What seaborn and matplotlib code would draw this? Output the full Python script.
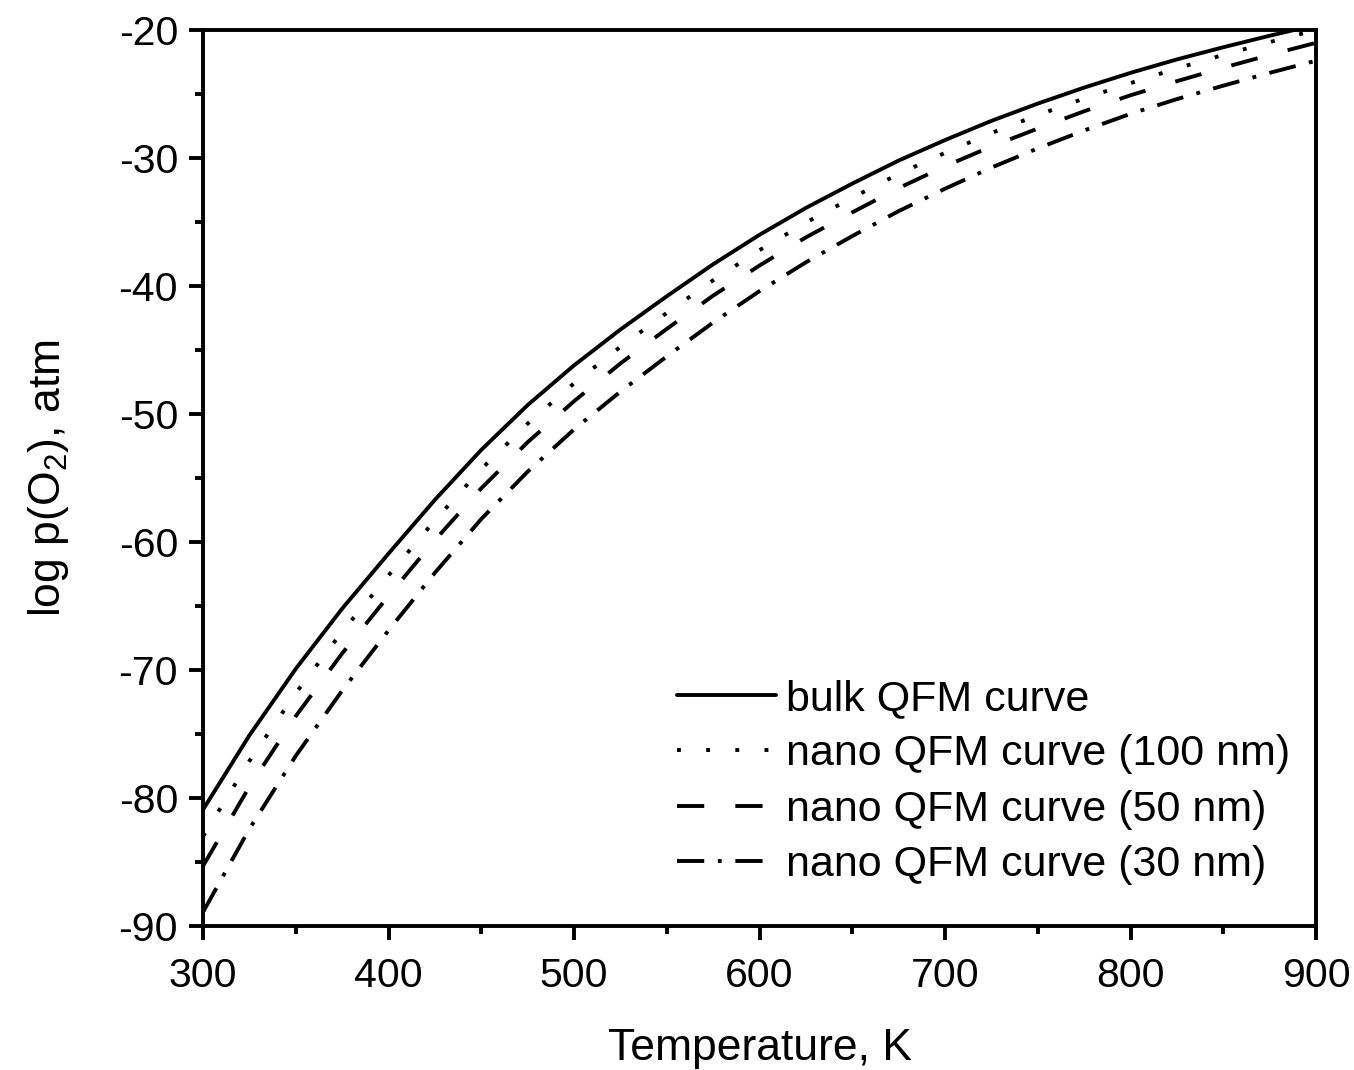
import numpy as np
import pandas as pd
import matplotlib
matplotlib.use("Agg")
import matplotlib.pyplot as plt
from matplotlib.ticker import MultipleLocator
import seaborn as sns

# === DATA ===
temperature = [300, 325, 350, 375, 400, 425, 450, 475, 500, 525, 550, 575, 600,
               625, 650, 675, 700, 725, 750, 775, 800, 825, 850, 875, 900]

bulk_qfm = [-80.9, -75.1, -69.9, -65.2, -60.9, -56.7, -52.8, -49.3, -46.2, -43.4,
            -40.8, -38.3, -36.0, -33.9, -32.0, -30.2, -28.6, -27.1, -25.75, -24.5,
            -23.35, -22.3, -21.35, -20.45, -19.6]

nano_100 = [-83.0, -77.1, -71.8, -67.0, -62.6, -58.3, -54.3, -50.75, -47.6, -44.75,
            -42.1, -39.55, -37.2, -35.05, -33.1, -31.25, -29.6, -28.05, -26.65, -25.35,
            -24.15, -23.0, -21.95, -20.95, -20.0]

nano_50 = [-85.3, -79.1, -73.6, -68.7, -64.2, -59.85, -55.8, -52.2, -49.0, -46.05,
           -43.35, -40.75, -38.4, -36.2, -34.25, -32.35, -30.65, -29.1, -27.7, -26.35,
           -25.1, -24.0, -22.95, -21.95, -21.0]

nano_30 = [-88.9, -82.4, -76.7, -71.6, -66.9, -62.4, -58.2, -54.5, -51.2, -48.25,
           -45.5, -42.85, -40.4, -38.15, -36.1, -34.15, -32.4, -30.75, -29.25, -27.85,
           -26.55, -25.4, -24.35, -23.35, -22.4]

labels = ["bulk QFM curve", "nano QFM curve (100 nm)",
          "nano QFM curve (50 nm)", "nano QFM curve (30 nm)"]

series = [bulk_qfm, nano_100, nano_50, nano_30]
df = pd.concat(
    [pd.DataFrame({"T": temperature, "logp": vals, "curve": lab})
     for lab, vals in zip(labels, series)],
    ignore_index=True,
)

# === STYLE ===
sns.set_theme(style="ticks")
plt.rcParams["font.family"] = ["Liberation Sans", "DejaVu Sans"]
plt.rcParams["mathtext.fontset"] = "custom"
plt.rcParams["mathtext.rm"] = "Liberation Sans"
plt.rcParams["mathtext.it"] = "Liberation Sans:italic"
plt.rcParams["axes.unicode_minus"] = False
plt.rcParams["text.color"] = "black"
plt.rcParams["axes.labelcolor"] = "black"
plt.rcParams["xtick.color"] = "black"
plt.rcParams["ytick.color"] = "black"

dash_map = {
    labels[0]: "",
    labels[1]: (1, 6.5),
    labels[2]: (7, 8),
    labels[3]: (7, 3.5, 1, 3.5),
}

fig = plt.figure(figsize=(13.54, 10.70), dpi=100)
ax = fig.add_axes([0.15, 0.1346, 0.822, 0.8374])

sns.lineplot(
    data=df, x="T", y="logp", hue="curve", style="curve",
    palette=["black"] * 4, dashes=dash_map, linewidth=2.8,
    hue_order=labels, style_order=labels, ax=ax, sort=False,
)

ax.set_xlim(300, 900)
ax.set_ylim(-90, -20)
ax.xaxis.set_major_locator(MultipleLocator(100))
ax.xaxis.set_minor_locator(MultipleLocator(50))
ax.yaxis.set_major_locator(MultipleLocator(10))
ax.yaxis.set_minor_locator(MultipleLocator(5))

for sp in ax.spines.values():
    sp.set_linewidth(2.8)
    sp.set_color("black")

ax.tick_params(which="major", direction="out", length=10, width=2.8,
               labelsize=29.5, pad=8)
ax.tick_params(axis="x", which="major", pad=12)
ax.tick_params(which="minor", direction="out", length=6, width=2.8)
ax.tick_params(top=False, right=False, which="both")

ax.set_xlabel("Temperature, K", fontsize=32, labelpad=24)
ax.set_ylabel(r"log p(O$_2$), atm", fontsize=32, labelpad=34)

ax.legend(
    loc="upper left", bbox_to_anchor=(0.41, 0.295), frameon=False,
    fontsize=31, handlelength=2.3, handletextpad=0.25, labelspacing=0.36,
    borderaxespad=0,
)

plt.savefig("out.png", dpi=100)
plt.close()
